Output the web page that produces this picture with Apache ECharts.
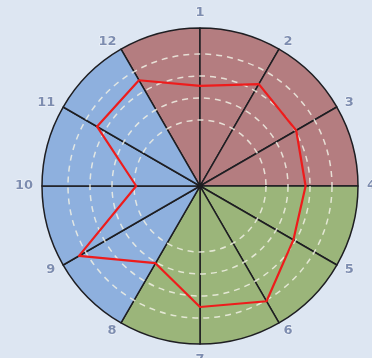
<!DOCTYPE html>
<html>
<head>
<meta charset="utf-8">
<script src="https://cdn.jsdelivr.net/npm/echarts@6/dist/echarts.min.js"></script>
<style>
  html, body { margin: 0; padding: 0; background: #dde6f2; }
  #main { width: 372px; height: 358px; }
</style>
</head>
<body>
<div id="main"></div>
<script>
// spoke labels, clockwise from the top
var labels = ['1', '2', '3', '4', '5', '6', '7', '8', '9', '10', '11', '12'];
// red line, one value per spoke (ring units, dashed rings at 3..6)
var values = [4.55, 5.35, 5.05, 4.8, 4.9, 6.05, 5.5, 4.05, 6.35, 2.9, 5.4, 5.55];
// sector fills, clockwise starting with the sector 12-1
var sectorColors = ['#b47d80', '#b47d80', '#b47d80', '#b47d80',
                    '#9bb57a', '#9bb57a', '#9bb57a', '#9bb57a',
                    '#8eb0de', '#8eb0de', '#8eb0de', '#8eb0de'];

var center = [200, 186];

var myChart = echarts.init(document.getElementById('main'));

// radar goes counter-clockwise, so feed the spokes in reverse after the first
var order = [0].concat(labels.map(function (l, i) { return i; }).slice(1).reverse());

var ring = 'rgba(240,240,228,0.85)';
var none = 'rgba(0,0,0,0)';

myChart.setOption({
  backgroundColor: '#dde6f2',
  animation: false,
  radar: {
    z: 3,
    center: center,
    radius: 154,
    startAngle: 90,
    shape: 'circle',
    splitNumber: 7,
    indicator: order.map(function (i) { return { name: labels[i], min: 0, max: 7 }; }),
    axisName: {
      color: '#7d8db0',
      fontWeight: 'bold',
      fontSize: 13,
      fontFamily: 'DejaVu Sans',
      textBorderColor: '#f4f7fb',
      textBorderWidth: 1
    },
    nameGap: 13,
    axisLine: { show: false },
    axisTick: { show: false },
    axisLabel: { show: false },
    splitArea: { show: false },
    splitLine: {
      lineStyle: {
        color: [none, none, none, ring, ring, ring, ring, none],
        type: [6, 5],
        width: 1.5
      }
    }
  },
  series: [
    {
      type: 'pie',
      center: center,
      radius: [0, 158],
      startAngle: 120,
      clockwise: true,
      silent: true,
      z: 0,
      zlevel: 0,
      label: { show: false },
      labelLine: { show: false },
      emphasis: { disabled: true },
      itemStyle: { borderColor: '#1e1e22', borderWidth: 1.5 },
      data: sectorColors.map(function (c, i) {
        return { value: 1, name: 's' + i, itemStyle: { color: c } };
      })
    },
    {
      type: 'radar',
      z: 5,
      symbol: 'none',
      lineStyle: { color: '#ee1c1c', width: 2.2 },
      data: [{ value: order.map(function (i) { return values[i]; }) }]
    }
  ]
});
</script>
</body>
</html>
